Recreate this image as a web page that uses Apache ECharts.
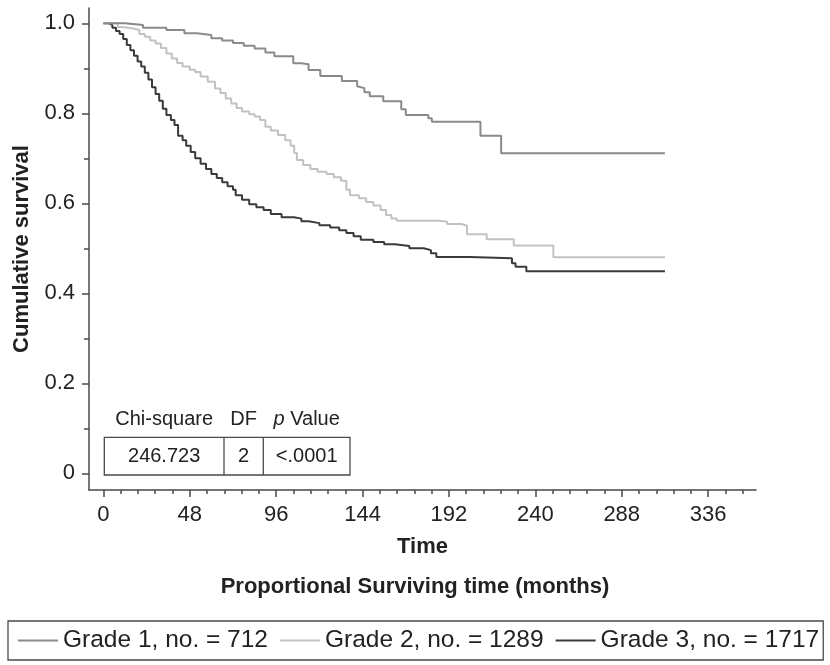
<!DOCTYPE html>
<html>
<head>
<meta charset="utf-8">
<script src="https://cdn.jsdelivr.net/npm/echarts@6/dist/echarts.min.js"></script>
<style>html,body{margin:0;padding:0;background:#fff;}#c{width:830px;height:665px;}</style>
</head>
<body>
<div id="c"></div>
<script>
// ---- data ----
const seriesNames = ['Grade 1, no. = 712', 'Grade 2, no. = 1289', 'Grade 3, no. = 1717'];
const g1Time = [0,12,22,35,45,52,60,66,72,78,84,90,95,105.5,110,114,120.5,132.5,141,142,145,148,155.5,165.5,168,180.5,182.5,209.5,221,312];
const g1Surv = [1.0,0.996,0.990,0.985,0.978,0.974,0.967,0.962,0.956,0.950,0.944,0.935,0.927,0.911,0.909,0.896,0.883,0.872,0.860,0.856,0.847,0.838,0.827,0.809,0.796,0.789,0.781,0.750,0.711,0.711];
const g2Time = [0,8,10,16,20,23,26,29,32,35,38,41,44,48,51,54,58,62,65,68,71,74,77,81,84,87,90,93,97,101,104,106,107.5,111,115,119,124,128,132,135,137,142,146,150,154,157,160,163,187,191,199,202,213,228,250,312];
const g2Surv = [1.0,0.992,0.989,0.985,0.976,0.970,0.962,0.955,0.945,0.933,0.922,0.912,0.904,0.897,0.892,0.882,0.870,0.855,0.845,0.833,0.822,0.812,0.804,0.798,0.793,0.785,0.770,0.762,0.752,0.740,0.728,0.712,0.696,0.685,0.676,0.670,0.665,0.658,0.650,0.630,0.618,0.611,0.603,0.595,0.585,0.574,0.566,0.561,0.559,0.554,0.550,0.531,0.520,0.506,0.480,0.480];
const g3Time = [0,3,5,7,9,11,13,15,17,19,21,23,25,27,29,31,33,35,37.5,39.5,41.5,44,46,48.5,51,54,57,60,63,66,69,72,73.5,77,81,85,89,93,99,106,110,114,120,126,131,135,139,143,150,156,162,170,178,182,185,203.5,227,229,235,312];
const g3Surv = [1.0,0.996,0.990,0.983,0.976,0.965,0.952,0.940,0.928,0.915,0.904,0.890,0.875,0.858,0.843,0.828,0.810,0.796,0.785,0.774,0.750,0.740,0.728,0.714,0.700,0.688,0.676,0.665,0.656,0.647,0.638,0.630,0.618,0.608,0.598,0.591,0.585,0.576,0.569,0.566,0.560,0.556,0.551,0.546,0.540,0.534,0.527,0.519,0.514,0.509,0.505,0.500,0.496,0.489,0.481,0.478,0.467,0.459,0.449,0.449];
const xTicks = [0,48,96,144,192,240,288,336];
const yTicks = [0,0.2,0.4,0.6,0.8,1.0];
const yMinorTicks = [0.1,0.3,0.5,0.7,0.9];
const tableHeaders = ['Chi-square', 'DF', 'p Value'];
const tableValues = ['246.723', '2', '<.0001'];

// ---- styling ----
const FONT = '"Liberation Sans", Arial, Helvetica, sans-serif';
const colors = ['#8a8a8a', '#c2c2c2', '#3a3a3a'];
const axisColor = '#4a4a4a';
const xMinorTicks = [];
for (let v = 9.6; v < 362; v += 9.6) {
  const r = Math.round(v * 10) / 10;
  if (Math.abs(r / 48 - Math.round(r / 48)) > 1e-6) xMinorTicks.push(r);
}
const xMin = -8, xMax = 362.6, yMin = -0.037, yMax = 1.034;

function pairs(t, s) { return t.map((v, i) => [v, s[i]]); }
const allData = [pairs(g1Time, g1Surv), pairs(g2Time, g2Surv), pairs(g3Time, g3Surv)];

const chart = echarts.init(document.getElementById('c'), null, {renderer: 'canvas'});

// table geometry
const tx = 104.3, ty = 437.3, tw = 245.7, th = 37.7;
const col1 = 224, col2 = 263.3;
const centers = [(tx + col1) / 2, (col1 + col2) / 2, (col2 + tx + tw) / 2];

const graphics = [
  {type: 'rect', shape: {x: tx, y: ty, width: tw, height: th}, style: {fill: '#fff', stroke: axisColor, lineWidth: 1.3}, z: 10},
  {type: 'line', shape: {x1: col1, y1: ty, x2: col1, y2: ty + th}, style: {stroke: axisColor, lineWidth: 1.3}, z: 11},
  {type: 'line', shape: {x1: col2, y1: ty, x2: col2, y2: ty + th}, style: {stroke: axisColor, lineWidth: 1.3}, z: 11}
];
tableHeaders.forEach((h, i) => {
  const isP = h.indexOf('p ') === 0;
  graphics.push({
    type: 'text', x: centers[i], y: 419.5, z: 11,
    style: {
      text: isP ? '{i|p} ' + h.slice(2) : h,
      rich: {i: {fontStyle: 'italic', fontSize: 20, fontFamily: FONT, fill: '#222'}},
      fontSize: 20, fontFamily: FONT, fill: '#222', align: 'center', verticalAlign: 'middle'
    }
  });
});
tableValues.forEach((v, i) => {
  graphics.push({
    type: 'text', x: centers[i], y: ty + th / 2, z: 11,
    style: {text: v, fontSize: 20, fontFamily: FONT, fill: '#222', align: 'center', verticalAlign: 'middle'}
  });
});

const option = {
  animation: false,
  backgroundColor: '#fff',
  textStyle: {fontFamily: FONT},
  title: {
    text: 'Proportional Surviving time (months)',
    left: 'center', top: 571,
    textStyle: {fontSize: 22, fontWeight: 'bold', color: '#222', fontFamily: FONT}
  },
  legend: {
    left: 8, top: 621,
    orient: 'horizontal',
    padding: [7, 4, 7, 10],
    itemGap: 12,
    itemWidth: 40, itemHeight: 14,
    borderColor: axisColor, borderWidth: 1.3,
    icon: 'path://M0,6 L40,6 L40,8 L0,8 Z',
    textStyle: {fontSize: 24.5, color: '#222', fontFamily: FONT},
    data: seriesNames
  },
  grid: {left: 89, right: 74, top: 8, bottom: 175, containLabel: false},
  xAxis: [
    {
      type: 'value', min: xMin, max: xMax, position: 'bottom',
      name: 'Time', nameLocation: 'middle', nameGap: 46,
      nameTextStyle: {fontSize: 22, fontWeight: 'bold', color: '#222', fontFamily: FONT},
      axisLine: {show: true, onZero: false, lineStyle: {color: axisColor, width: 1.5}},
      axisTick: {show: true, customValues: xTicks, length: 7, lineStyle: {color: axisColor, width: 1.5}},
      axisLabel: {show: true, customValues: xTicks, margin: 14, fontSize: 22, color: '#222', fontFamily: FONT},
      splitLine: {show: false}
    },
    {
      type: 'value', min: xMin, max: xMax, position: 'bottom',
      axisLine: {show: false, onZero: false},
      axisTick: {show: true, customValues: xMinorTicks, length: 4, lineStyle: {color: axisColor, width: 1.5}},
      axisLabel: {show: false},
      splitLine: {show: false}
    }
  ],
  yAxis: [
    {
      type: 'value', min: yMin, max: yMax, position: 'left',
      name: 'Cumulative survival', nameLocation: 'middle', nameGap: 56,
      nameTextStyle: {fontSize: 22, fontWeight: 'bold', color: '#222', fontFamily: FONT},
      axisLine: {show: true, onZero: false, lineStyle: {color: axisColor, width: 1.5}},
      axisTick: {show: true, customValues: yTicks, length: 7, lineStyle: {color: axisColor, width: 1.5}},
      axisLabel: {show: true, customValues: yTicks, margin: 14, fontSize: 22, color: '#222', fontFamily: FONT,
        formatter: v => (Math.abs(v) < 1e-9 ? '0' : v.toFixed(1))},
      splitLine: {show: false}
    },
    {
      type: 'value', min: yMin, max: yMax, position: 'left',
      axisLine: {show: false, onZero: false},
      axisTick: {show: true, customValues: yMinorTicks, length: 5, lineStyle: {color: axisColor, width: 1.5}},
      axisLabel: {show: false},
      splitLine: {show: false}
    }
  ],
  series: seriesNames.map((n, i) => ({
    name: n, type: 'line', step: 'end', showSymbol: false, symbol: 'none',
    xAxisIndex: 0, yAxisIndex: 0,
    data: allData[i],
    color: colors[i],
    lineStyle: {color: colors[i], width: 2},
    z: 3 - i + 2
  })),
  graphic: graphics
};
chart.setOption(option);
</script>
</body>
</html>
